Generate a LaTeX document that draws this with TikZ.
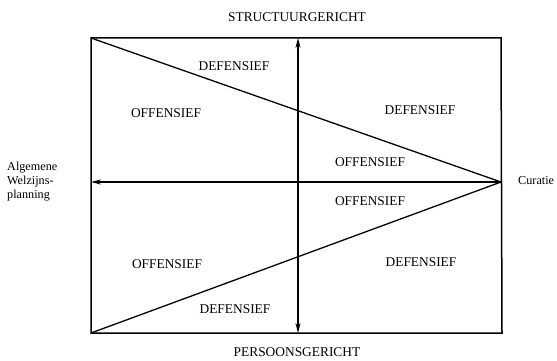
\documentclass[tikz,border=0pt]{standalone}
\usepackage{fontspec}
\setmainfont{Liberation Serif}
\usetikzlibrary{arrows.meta}
\begin{document}
\begin{tikzpicture}[x=1pt,y=-1pt,
  lbl/.style={font=\fontsize{13.4}{15}\selectfont, inner sep=0pt},
  side/.style={font=\fontsize{12.2}{14}\selectfont, inner sep=0pt},
  frame/.style={line width=1.5pt},
  diag/.style={line width=1.3pt},
  axis/.style={line width=1.4pt, -{Stealth[length=10pt,width=5pt]}}]
\useasboundingbox (0,0) rectangle (557,361);
\coordinate (TL) at (91,38);
\coordinate (TR) at (501,38);
\coordinate (BL) at (91,333);
\coordinate (BR) at (502,333);
\coordinate (C) at (501,182);
\coordinate (L) at (91,182);
\coordinate (T) at (298,38);
\coordinate (B) at (298,333);
\coordinate (M) at (298,182);
\draw[frame] (TL) -- (TR) -- (BR) -- (BL) -- cycle;
\draw[diag] (TL) -- (C) -- (BL);
\draw[axis] (C) -- (L);
\draw[axis] (M) -- (T);
\draw[axis] (M) -- (B);
\node[lbl] (st) at (297,17) {STRUCTUURGERICHT};
\node[lbl] (pg) at (297,352) {PERSOONSGERICHT};
\node[side, align=left, anchor=west] (alg) at (7,182) {Algemene\\Welzijns-\\planning};
\node[side, anchor=west] (cur) at (518,181) {Curatie};
\node[lbl] (d1) at (234,66) {DEFENSIEF};
\node[lbl] (o1) at (166,113) {OFFENSIEF};
\node[lbl] (d2) at (420,110) {DEFENSIEF};
\node[lbl] (o2) at (370,162) {OFFENSIEF};
\node[lbl] (o3) at (370,201) {OFFENSIEF};
\node[lbl] (d3) at (421,262) {DEFENSIEF};
\node[lbl] (o4) at (167,264) {OFFENSIEF};
\node[lbl] (d4) at (235,309) {DEFENSIEF};
\end{tikzpicture}
\end{document}
